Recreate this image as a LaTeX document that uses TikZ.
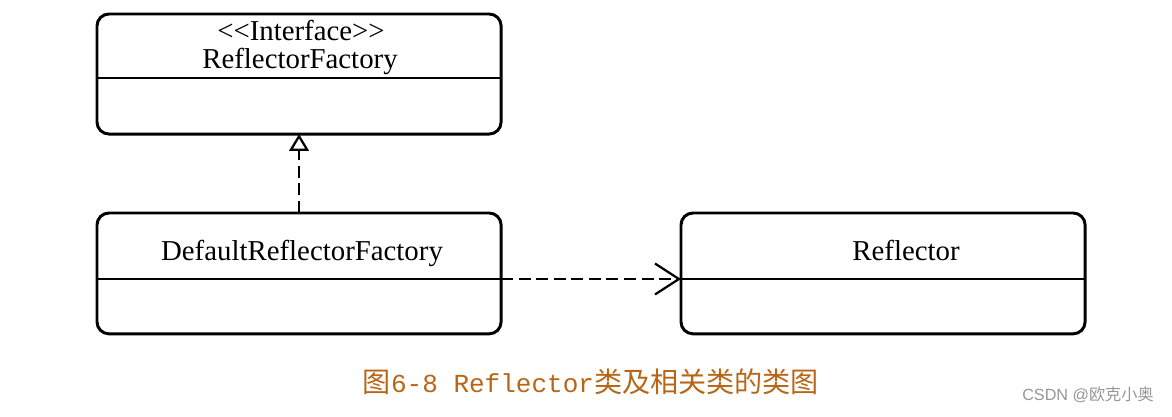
\documentclass[tikz,border=0pt]{standalone}
\usepackage{fontspec}
\setmainfont{Liberation Serif}
\newfontfamily\cjkfont{Noto Sans CJK SC}
\newfontfamily\capmono{Liberation Mono}
\newfontfamily\marksans{Liberation Sans}
\usetikzlibrary{arrows.meta}
\definecolor{captionbrown}{RGB}{184,102,22}
\definecolor{markgrey}{RGB}{150,150,150}
\tikzset{
	classbox/.style={draw, line width=2.1pt, rounded corners=8.5pt, minimum width=10.1cm, minimum height=3.02cm, inner sep=0pt, outer sep=0pt, anchor=north west},
	sepline/.style={line width=2.1pt},
	classname/.style={font=\fontsize{20.5}{24}\selectfont, anchor=base, inner sep=0pt},
	realize/.style={line width=1.6pt, dash pattern=on 8.5pt off 4pt, -{Triangle[open, length=12pt, width=14pt, line width=1.6pt]}},
	depend/.style={line width=1.6pt, dash pattern=on 8.5pt off 4pt, -{Straight Barb[length=17pt, width=22pt, line width=1.6pt]}}
}

\begin{document}
\begin{tikzpicture}[x=0.025cm, y=-0.025cm]
		%%%%% START %%%%%
		\useasboundingbox (0, 0) rectangle (1172, 416);
		
		% interface
		\node[classbox, minimum height=3cm] (factory) at (97, 14) {};
		\coordinate (fsep) at (97, 78);
		\draw[sepline] (fsep) -- (fsep -| factory.east);
		\node[classname] (stereo) at (301, 40) {<\kern0pt<Interface>\kern0pt>};
		\node[classname] (fname) at (300, 68) {ReflectorFactory};
		
		% implementation
		\node[classbox] (default) at (97, 213) {};
		\coordinate (dsep) at (501, 279);
		\draw[sepline] (default.west |- dsep) -- (dsep);
		\node[classname] (dname) at (302, 260) {DefaultReflectorFactory};
		
		% reflector
		\node[classbox] (reflector) at (681, 213) {};
		\coordinate (rsep) at (681, 279);
		\draw[sepline] (rsep) -- (rsep -| reflector.east);
		\node[classname] (rname) at (906, 260) {Reflector};
		
		% relations
		\draw[realize] (default.north) -- (factory.south);
		\draw[depend] (dsep) -- (rsep);
		
		% caption
		\node[anchor=base, inner sep=0pt, text=captionbrown] (caption) at (591, 392)
			{\cjkfont\fontsize{20}{22}\selectfont 图\capmono\fontsize{18.5}{22}\selectfont 6-8 Reflector\cjkfont\fontsize{20}{22}\selectfont 类及相关类的类图};
		\node[anchor=base west, inner sep=0pt, text=markgrey] (mark) at (1022, 400)
			{\marksans\fontsize{11.5}{14}\selectfont CSDN @\cjkfont 欧克小奥};
		
		%%%%% END %%%%%
\end{tikzpicture}
\end{document}
